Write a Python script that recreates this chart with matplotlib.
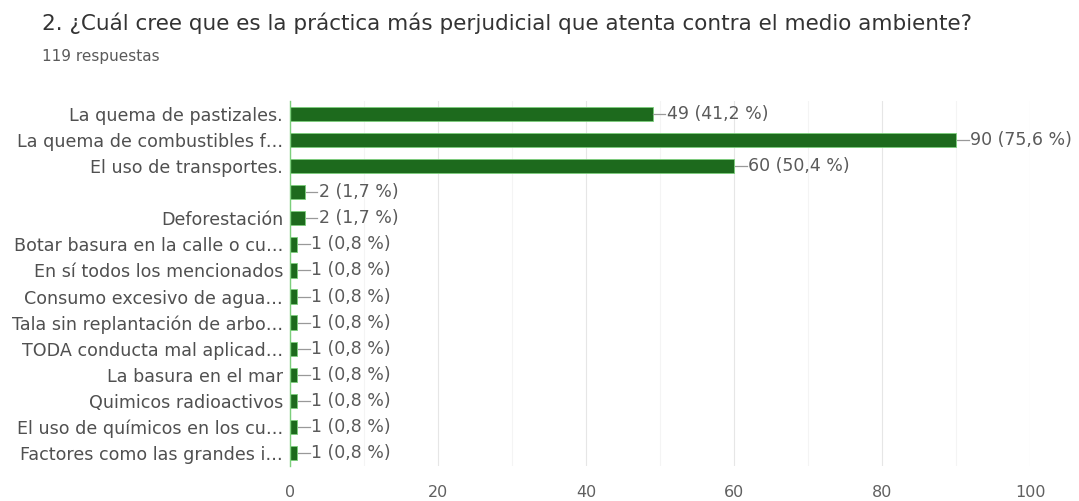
import matplotlib
matplotlib.use("Agg")
import matplotlib.pyplot as plt
from matplotlib.ticker import MultipleLocator

categories = [
    "La quema de pastizales.",
    "La quema de combustibles f…",
    "El uso de transportes.",
    "",
    "Deforestación",
    "Botar basura en la calle o cu…",
    "En sí todos los mencionados",
    "Consumo excesivo de agua…",
    "Tala sin replantación de arbo…",
    "TODA conducta mal aplicad…",
    "La basura en el mar",
    "Quimicos radioactivos",
    "El uso de químicos en los cu…",
    "Factores como las grandes i…",
]
counts = [49, 90, 60, 2, 2, 1, 1, 1, 1, 1, 1, 1, 1, 1]
percents = ["41,2", "75,6", "50,4", "1,7", "1,7", "0,8", "0,8", "0,8", "0,8",
            "0,8", "0,8", "0,8", "0,8", "0,8"]
x_ticks = [0, 20, 40, 60, 80, 100]
title = "2. ¿Cuál cree que es la práctica más perjudicial que atenta contra el medio ambiente?"
subtitle = "119 respuestas"

plt.rcParams['font.family'] = ['DejaVu Sans']

fig = plt.figure(figsize=(10.79, 5.01), dpi=100)
ax = fig.add_axes([290/1079, 1 - 466/501, 740/1079, 365/501])

y = list(range(len(categories)))
ax.barh(y, counts, height=0.55, color="#1d6a1d", edgecolor="#7ccf7c", linewidth=0.6, zorder=3)
ax.set_ylim(len(categories) - 0.5, -0.5)
ax.set_xlim(0, 100)
ax.set_xticks(x_ticks)
ax.xaxis.set_minor_locator(MultipleLocator(10))
ax.grid(axis="x", which="major", color="#e6e6e6", linewidth=0.8, zorder=0)
ax.grid(axis="x", which="minor", color="#f4f4f4", linewidth=0.8, zorder=0)
ax.set_yticks(y)
ax.set_yticklabels(categories, fontsize=12.6, color="#505050")
ax.tick_params(axis="y", length=0, pad=5)
ax.tick_params(axis="x", which="both", length=0, pad=14, labelsize=11.5, labelcolor="#606060")
for s in ["top", "right", "bottom"]:
    ax.spines[s].set_visible(False)
ax.spines["left"].set_color("#7ccf7c")
ax.spines["left"].set_linewidth(1.0)
ax.spines["left"].set_zorder(4)

for yi, c, p in zip(y, counts, percents):
    ax.plot([c + 0.1, c + 1.7], [yi, yi], color="#999999", linewidth=0.9, zorder=3, clip_on=False)
    ax.text(c + 1.9, yi, f"{c} ({p} %)", va="center", ha="left", fontsize=12.5,
            color="#5a5a5a", clip_on=False)

fig.text(42/1079, 1 - 23/501, title, fontsize=15.5, color="#333333", va="center", ha="left")
fig.text(42/1079, 1 - 57/501, subtitle, fontsize=11, color="#5a5a5a", va="center", ha="left")

fig.savefig("out.png", dpi=100, facecolor="white")
